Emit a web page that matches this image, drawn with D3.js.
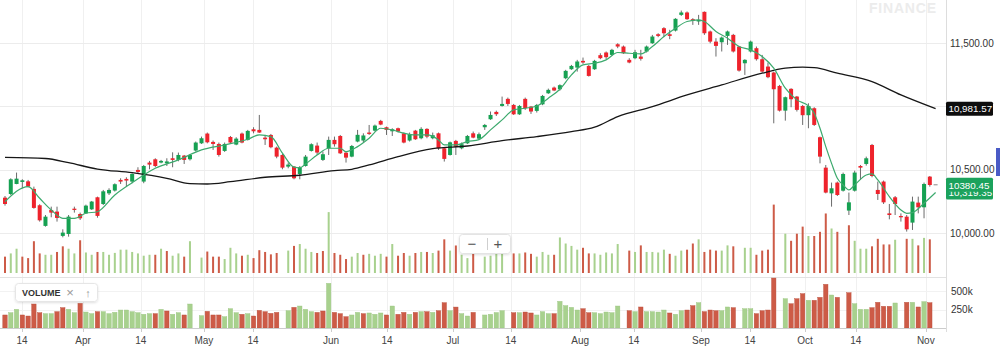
<!DOCTYPE html>
<html><head><meta charset="utf-8">
<script src="https://cdn.jsdelivr.net/npm/d3@7"></script>
<style>html,body{margin:0;padding:0;background:#fff;}svg{display:block;font-family:"Liberation Sans",Arial,Helvetica,sans-serif;}</style>
</head><body>
<svg id="chart" width="1000" height="357"></svg>
<script>
// ---------- DATA ----------
const opens = [10279,10308,10387,10403,10408,10348,10219,10056,10182,10169,9977,9992,10192,10150,10155,10187,10282,10229,10313,10335,
10419,10427,10406,10498,10406,10556,10582,10556,10550,10590,10577,10611,10582,10651,10708,10785,10719,10703,10648,10758,
10698,10785,10735,10819,10814,10753,10774,10674,10616,10524,10524,10466,10529,10648,10690,10577,10669,10735,10766,10634,
10603,10722,10730,10793,10808,10885,10835,10803,10827,10787,10730,10808,10748,10822,10748,10787,10669,10616,10727,10669,
10708,10787,10745,10835,10898,10956,11003,11059,11011,10937,11059,10998,10964,11016,11103,11148,11135,11222,11293,11306,
11359,11319,11293,11404,11425,11406,11490,11472,11367,11380,11393,11433,11498,11569,11617,11569,11598,11722,11741,11688,
11670,11746,11591,11511,11506,11556,11564,11472,11340,11433,11459,11372,11314,11267,11161,10966,11138,11077,11003,10930,
10985,10756,10516,10313,10398,10334,10177,10334,10529,10545,10695,10340,10406,10155,10282,10134,10129,10082,10240,10203,
10445,10380.45];
const highs = [10292,10432,10477,10424,10419,10366,10227,10142,10208,10208,10029,10142,10208,10161,10224,10253,10287,10340,10353,10392,
10432,10440,10471,10519,10537,10569,10590,10577,10590,10637,10635,10616,10624,10722,10761,10793,10730,10714,10714,10766,
10756,10793,10814,10835,10932,10774,10782,10682,10624,10556,10529,10529,10616,10708,10714,10643,10761,10761,10774,10643,
10695,10814,10787,10853,10856,10893,10840,10827,10832,10793,10793,10814,10835,10827,10793,10793,10677,10722,10735,10714,
10774,10801,10793,10861,10959,10966,11077,11069,11019,11011,11069,11003,11019,11090,11140,11156,11174,11288,11327,11367,
11385,11327,11367,11419,11433,11454,11498,11480,11380,11446,11446,11480,11564,11577,11625,11604,11696,11756,11749,11696,
11722,11749,11598,11538,11551,11598,11572,11477,11372,11519,11472,11406,11346,11274,11169,11077,11143,11082,11011,11024,
10993,10761,10537,10398,10406,10477,10319,10492,10537,10603,10703,10406,10414,10229,10292,10155,10142,10287,10287,10398,
10450,10380.45];
const lows = [10216,10300,10385,10353,10361,10192,10090,10050,10124,10090,9966,9971,10161,10103,10150,10182,10121,10221,10300,10327,
10387,10366,10393,10471,10393,10503,10519,10550,10529,10519,10566,10545,10572,10643,10703,10708,10656,10603,10640,10703,
10693,10708,10730,10787,10790,10695,10669,10590,10503,10511,10424,10424,10524,10643,10616,10569,10616,10682,10624,10556,
10598,10716,10716,10774,10801,10851,10774,10766,10793,10708,10722,10735,10740,10748,10740,10656,10564,10611,10616,10661,
10703,10748,10735,10814,10893,10924,10998,11003,10932,10932,10972,10940,10951,11009,11098,11120,11124,11214,11288,11274,
11335,11235,11288,11372,11372,11398,11459,11414,11340,11372,11361,11425,11493,11546,11546,11530,11591,11714,11683,11643,
11643,11564,11498,11393,11433,11485,11425,11274,11248,11425,11361,11267,11222,10866,10959,10887,10993,10959,10853,10827,
10845,10550,10313,10208,10292,10327,10142,10327,10419,10532,10440,10261,10229,10108,10142,10090,10011,10024,10155,10116,
10366,10380.45];
const closes = [10229,10424,10429,10416,10366,10198,10100,10129,10161,10119,10003,10129,10182,10116,10216,10248,10135,10329,10340,10385,
10406,10414,10466,10482,10529,10540,10529,10569,10565,10577,10616,10577,10616,10714,10748,10716,10703,10616,10703,10714,
10745,10714,10806,10803,10793,10740,10677,10603,10516,10540,10432,10519,10603,10701,10635,10622,10735,10701,10629,10595,
10687,10775,10770,10782,10848,10856,10814,10819,10801,10714,10780,10740,10822,10761,10772,10669,10585,10716,10682,10701,
10766,10753,10780,10853,10932,10938,11019,11019,10937,11003,10985,10959,11011,11082,11130,11125,11167,11280,11319,11354,
11346,11240,11359,11380,11388,11446,11472,11419,11346,11427,11375,11472,11551,11556,11577,11556,11691,11741,11688,11675,
11683,11577,11511,11477,11543,11591,11433,11282,11367,11511,11372,11274,11230,11135,10966,11072,11056,10972,10930,11003,
10853,10603,10319,10353,10300,10466,10242,10477,10516,10590,10450,10308,10242,10142,10229,10124,10029,10248,10203,10387,
10379,10380.45];
// volume in thousands (null = no bar drawn)
const volumes = [176,207,252,176,162,324,207,194,194,221,275,252,207,333,216,194,221,221,194,212,
243,243,221,207,185,194,194,252,230,185,207,176,324,null,167,225,176,176,153,261,
207,185,194,162,238,221,198,211,null,234,279,297,252,221,211,230,603,211,194,153,
176,211,194,203,185,203,176,297,185,211,185,211,221,221,211,234,342,234,283,194,
162,211,null,176,185,209,234,null,207,207,216,203,176,221,194,194,360,302,279,243,
261,207,207,194,216,207,297,null,234,221,284,221,221,216,243,203,185,234,243,302,
342,221,243,234,234,284,275,null,261,261,194,234,243,675,null,396,328,396,464,374,
374,414,590,446,414,null,477,328,252,252,275,347,293,293,338,null,347,347,284,356,
342,null];
// 5-period moving average (green), read at bar indices
const maFastIdx = [0,4,6,8,10,12,14,16,19,22,26,30,34,38,42,44,46,48,50,51,52,54,56,58,59,61,63,65,67,69,71,73,75,76,78,80,82,
84,86,88,90,92,94,96,98,100,102,104,106,108,110,112,114,116,118,120,121,123,125,127,129,131,133,135,137,139,140,141,142,143,144,145,146,147,149,150,151,153,155,156,157,159,161];
const maFastVal = [10247,10366,10274,10182,10116,10116,10156,10168,10300,10397,10511,10577,10656,10695,10740,10774,10761,10630,10520,10515,10545,10616,10669,10669,10642,10682,10748,10827,10814,10788,10774,10774,10735,10695,10695,10721,10737,
10814,10893,10972,10985,11003,11064,11135,11248,11327,11340,11367,11425,11419,11414,11472,11551,11617,11670,11683,11670,11591,11538,11472,11446,11393,11301,11143,11051,11003,10945,10827,10682,10550,10432,10379,10340,10379,10458,10466,10419,10287,10182,10155,10161,10235,10319.35];
// long moving average (black), read at bar indices
const maSlowIdx = [0,7,11,16,22,28,32,35,39,45,51,57,60,63,68,74,80,86,92,98,102,106,112,118,124,131,135,138,140,144,150,155,161];
const maSlowVal = [10597,10588,10555,10505,10476,10432,10390,10387,10405,10440,10456,10492,10503,10537,10603,10666,10687,10729,10761,10800,10835,10919,10998,11090,11169,11262,11301,11309,11306,11262,11195,11090,10981.57];
// x-axis ticks (label, bar position)
const tickLabels = ["14","Apr","14","May","14","Jun","14","Jul","14","Aug","14","Sep","14","Oct","14","Nov"];
const tickPos = [2.94,13.5,23.5,34.4,42.9,56.4,66.1,77.5,87.5,99.5,108.8,120.4,128.9,138.4,147.2,159.3];
const priceGrid = [10000,10500,11000,11500];
const priceLabels = [10000,10500,11500];
const volTicks = [250,500];
const volTickLabels = ["250k","500k"];
const lastTags = [{v:10319.35, t:"10,319.35"},{v:10380.45, t:"10380.45"}];
const slowTag = {v:10981.57, t:"10,981.57"};

// ---------- CHART ----------
const svg = d3.select("#chart");
const plotR = 946, mainBottom = 273, volBase = 328;
const x = d3.scaleLinear().domain([0,161]).range([5,935.6]);
const y = d3.scaleLinear().domain([10000,11500]).range([233,43]);
const yOv = d3.scaleLinear().domain([0,700]).range([275,202]);
const yV = d3.scaleLinear().domain([0,500]).range([volBase,291]);

const rows = d3.range(closes.length).map(i => ({
  i, o:opens[i], h:highs[i], l:lows[i], c:closes[i], v:volumes[i],
  volUp: i===0 ? closes[i]>=opens[i] : closes[i]>=closes[i-1]
}));

const defs = svg.append("defs");
defs.append("clipPath").attr("id","mainClip").append("rect").attr("x",0).attr("y",0).attr("width",plotR).attr("height",mainBottom);
const sh = defs.append("filter").attr("id","shadow").attr("x","-20%").attr("y","-30%").attr("width","140%").attr("height","170%");
sh.append("feDropShadow").attr("dx",0).attr("dy",1).attr("stdDeviation",1.2).attr("flood-color","#000").attr("flood-opacity",0.12);

// watermark
svg.append("text").attr("x",869).attr("y",13).attr("font-size",14).attr("font-weight","bold")
  .attr("letter-spacing",0.8).attr("fill","#ececec").text("FINANCE");

// grids
svg.append("g").selectAll("line").data(tickPos).join("line")
  .attr("x1",d=>Math.round(x(d))+0.5).attr("x2",d=>Math.round(x(d))+0.5)
  .attr("y1",0).attr("y2",volBase).attr("stroke","#f0f0f0");
svg.append("g").selectAll("line").data(priceGrid).join("line")
  .attr("x1",0).attr("x2",plotR).attr("y1",d=>Math.round(y(d))+0.5).attr("y2",d=>Math.round(y(d))+0.5)
  .attr("stroke","#ececec");
svg.append("g").selectAll("line").data(volTicks).join("line")
  .attr("x1",0).attr("x2",plotR).attr("y1",d=>Math.round(yV(d))+0.5).attr("y2",d=>Math.round(yV(d))+0.5)
  .attr("stroke","#f2f2f2");

const redVol = "#cd5b47", greenVol = "#a8d18e";
// overlay volume in main panel
const main = svg.append("g").attr("clip-path","url(#mainClip)");
main.append("g").selectAll("rect").data(rows.filter(d=>d.v!=null)).join("rect")
  .attr("x",d=>x(d.i)-1).attr("width",2)
  .attr("y",d=>yOv(d.v)).attr("height",d=>yOv(0)-yOv(d.v))
  .attr("fill",d=>d.volUp?greenVol:redVol);

// candles
const up = "#16a152", down = "#ee232c";
const cg = main.append("g");
cg.selectAll("line").data(rows.slice(0,-1)).join("line")
  .attr("x1",d=>x(d.i)).attr("x2",d=>x(d.i)).attr("y1",d=>y(d.h)).attr("y2",d=>y(d.l))
  .attr("stroke","#6b6b6b").attr("stroke-width",1);
cg.selectAll("rect").data(rows.slice(0,-1)).join("rect")
  .attr("x",d=>x(d.i)-2).attr("width",4)
  .attr("y",d=>y(Math.max(d.o,d.c)))
  .attr("height",d=>Math.max(1.2,Math.abs(y(d.o)-y(d.c))))
  .attr("fill",d=>d.c>=d.o?up:down);
const last = rows[rows.length-1];
cg.append("line").attr("x1",x(last.i)-2).attr("x2",x(last.i)+2).attr("y1",y(last.c)).attr("y2",y(last.c))
  .attr("stroke","#888").attr("stroke-width",1);

// moving averages
const slowPts = maSlowIdx.map((k,j)=>[k,maSlowVal[j]]);
const fastPts = maFastIdx.map((k,j)=>[k,maFastVal[j]]);
const line = d3.line().x(d=>x(d[0])).y(d=>y(d[1])).curve(d3.curveMonotoneX);
main.append("path").attr("d",line(slowPts)).attr("fill","none").attr("stroke","#161616").attr("stroke-width",1.3);
main.append("path").attr("d",line(fastPts)).attr("fill","none").attr("stroke","#3daa6e").attr("stroke-width",1.2);

// zoom control
const zc = svg.append("g");
zc.append("rect").attr("x",459.5).attr("y",234.5).attr("width",51).attr("height",19).attr("rx",3)
  .attr("fill","#fff").attr("stroke","#e4e4e4").attr("filter","url(#shadow)");
zc.append("text").attr("x",472).attr("y",249).attr("text-anchor","middle").attr("font-size",15).attr("fill","#555").text("−");
zc.append("line").attr("x1",487.5).attr("x2",487.5).attr("y1",238).attr("y2",250).attr("stroke","#cfcfcf");
zc.append("text").attr("x",498).attr("y",249).attr("text-anchor","middle").attr("font-size",15).attr("fill","#555").text("+");

// volume panel
svg.append("line").attr("x1",0).attr("x2",plotR).attr("y1",277.5).attr("y2",277.5).attr("stroke","#e2e2e2");
svg.append("g").selectAll("rect").data(rows.filter(d=>d.v!=null)).join("rect")
  .attr("x",d=>x(d.i)-2.2).attr("width",4.4)
  .attr("y",d=>yV(d.v)).attr("height",d=>yV(0)-yV(d.v))
  .attr("fill",d=>d.volUp?greenVol:redVol)
  .attr("stroke",d=>d.volUp?"#98c47d":"#b94a37").attr("stroke-width",0.4);

// volume legend
const lg = svg.append("g");
lg.append("rect").attr("x",15.5).attr("y",283.5).attr("width",82).attr("height",18).attr("rx",3)
  .attr("fill","#fff").attr("stroke","#e6e6e6").attr("filter","url(#shadow)");
lg.append("text").attr("x",22).attr("y",296).attr("font-size",9).attr("font-weight","bold").attr("fill","#333").text("VOLUME");
lg.append("text").attr("x",70).attr("y",297).attr("text-anchor","middle").attr("font-size",13).attr("fill","#9a9a9a").text("×");
lg.append("text").attr("x",88).attr("y",297).attr("text-anchor","middle").attr("font-size",11).attr("fill","#9a9a9a").text("↑");

// axes lines
svg.append("line").attr("x1",0).attr("x2",plotR).attr("y1",volBase+0.5).attr("y2",volBase+0.5).attr("stroke","#cccccc");
svg.append("line").attr("x1",plotR+0.5).attr("x2",plotR+0.5).attr("y1",0).attr("y2",volBase+4).attr("stroke","#dddddd");
svg.append("g").selectAll("line").data(tickPos).join("line")
  .attr("x1",d=>Math.round(x(d))+0.5).attr("x2",d=>Math.round(x(d))+0.5)
  .attr("y1",volBase).attr("y2",volBase+4).attr("stroke","#cccccc");
svg.append("g").selectAll("text").data(tickLabels).join("text")
  .attr("x",(d,k)=>x(tickPos[k])).attr("y",344).attr("text-anchor","middle")
  .attr("font-size",10).attr("fill","#444").text(d=>d);

// right axis labels
const fmt = d3.format(",.2f");
svg.append("g").selectAll("text").data(priceLabels).join("text")
  .attr("x",950).attr("y",d=>y(d)+3.5).attr("font-size",10).attr("fill","#333").text(d=>fmt(d));
svg.append("g").selectAll("text").data(volTicks).join("text")
  .attr("x",951).attr("y",d=>yV(d)+3.5).attr("font-size",10).attr("fill","#333").text((d,k)=>volTickLabels[k]);

// price tags
function tag(v,t,fill){
  const g = svg.append("g");
  g.append("rect").attr("x",946).attr("y",y(v)-7).attr("width",47).attr("height",14).attr("rx",1.5).attr("fill",fill);
  g.append("text").attr("x",948.5).attr("y",y(v)+3.8).attr("font-size",9.8).attr("fill","#fff").text(t);
}
tag(slowTag.v, slowTag.t, "#0d0d0d");
lastTags.forEach(d=>tag(d.v,d.t,"#1ba25c"));

// blue side tab
svg.append("rect").attr("x",996).attr("y",148).attr("width",4).attr("height",28).attr("fill","#4a5bc6");
</script>
</body></html>
